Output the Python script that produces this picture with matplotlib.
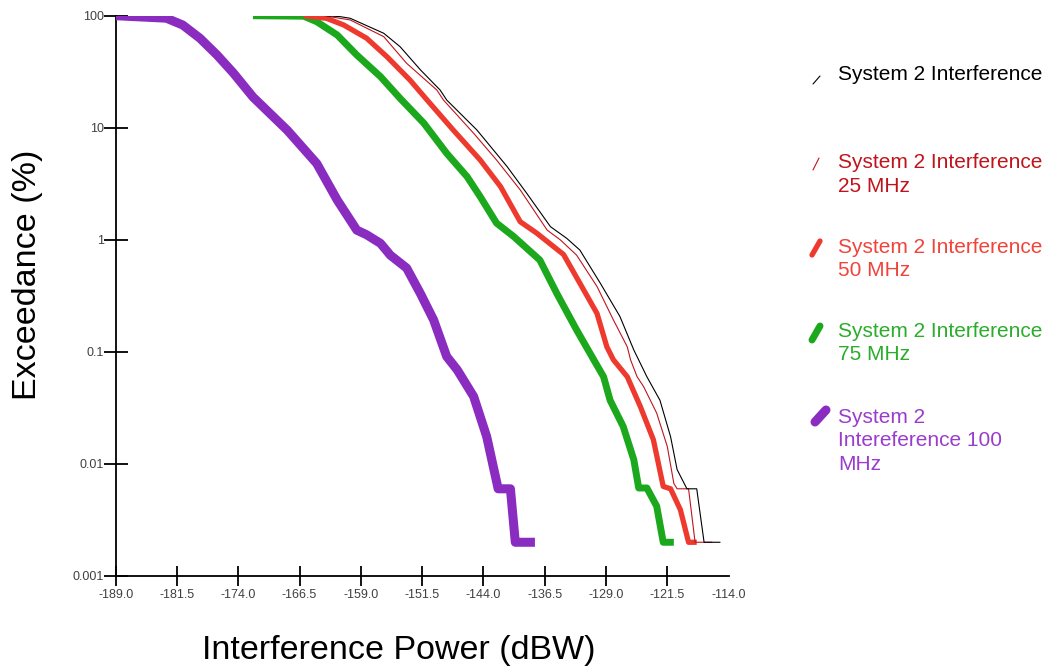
import numpy as np
import matplotlib
matplotlib.use('Agg')
import matplotlib.pyplot as plt
from matplotlib.lines import Line2D

plt.rcParams['font.family'] = ['Liberation Sans', 'DejaVu Sans']

# Exceedance curves, x = interference power (dBW), y = exceedance (%)
sys2_x = [-163.2, -161.5, -160.3, -156.2, -154.2, -151.7, -149.3, -148.5, -144.8, -141.1,
          -138.7, -135.8, -133.8, -132.2, -129.7, -127.3, -125.6, -124.0, -122.4, -121.1,
          -120.3, -119.1, -117.9, -117.0, -115.0]
sys2_y = [100, 98, 94.8, 69.7, 52.9, 32.8, 21.7, 17.7, 9.55, 4.5,
          2.6, 1.31, 1.03, 0.81, 0.41, 0.207, 0.104, 0.060, 0.037, 0.0175,
          0.0089, 0.006, 0.006, 0.002, 0.002]

sys2_25_x = [-163.5, -160.3, -156.2, -153.4, -149.7, -148.9, -145.2, -142.4, -139.5, -136.2,
             -134.6, -132.6, -130.1, -128.1, -126.4, -126.0, -125.2, -124.4, -122.8, -121.5,
             -120.7, -120.3, -118.9, -118.1, -116.0]
sys2_25_y = [100, 91.6, 65, 37.6, 21.7, 17.7, 8.93, 5.16, 2.79, 1.22,
             1.0, 0.73, 0.383, 0.193, 0.111, 0.085, 0.060, 0.049, 0.0284, 0.0143,
             0.0067, 0.006, 0.006, 0.002, 0.002]

sys2_50_x = [-166.0, -163.2, -161.1, -158.3, -155.8, -153.0, -150.9, -147.7, -144.4, -141.9,
             -139.5, -137.5, -134.2, -132.2, -130.1, -128.9, -128.1, -126.4, -124.8, -123.2,
             -122.0, -121.1, -119.9, -118.9, -117.9]
sys2_50_y = [100, 94.8, 82.6, 63, 43, 26.7, 17.7, 9.55, 5.16, 2.98,
             1.45, 1.15, 0.74, 0.41, 0.22, 0.111, 0.085, 0.060, 0.0325, 0.0164,
             0.0063, 0.006, 0.0039, 0.002, 0.002]

sys2_75_x = [-172.2, -166.0, -164.4, -161.9, -159.5, -156.6, -154.2, -151.3, -148.5, -146.0,
             -144.4, -142.4, -140.3, -137.1, -135.0, -132.6, -130.5, -129.3, -128.5, -126.9,
             -125.6, -125.0, -124.0, -122.8, -122.0, -120.7]
sys2_75_y = [100, 99, 88.4, 67.3, 44.6, 28.6, 18.3, 11.0, 5.92, 3.66,
             2.43, 1.41, 1.07, 0.66, 0.33, 0.157, 0.085, 0.060, 0.037, 0.0216,
             0.0109, 0.0061, 0.0061, 0.0042, 0.002, 0.002]

sys2_100_x = [-189.0, -182.8, -180.8, -178.7, -176.6, -174.6, -172.2, -168.0, -164.4, -161.9,
              -159.5, -158.3, -156.6, -155.4, -153.4, -151.7, -150.1, -148.5, -147.2, -145.2,
              -143.6, -142.8, -142.2, -140.7, -140.1, -137.7]
sys2_100_y = [100, 95, 82.6, 63, 44.6, 30.8, 18.8, 9.5, 4.8, 2.27,
              1.22, 1.11, 0.93, 0.73, 0.56, 0.33, 0.193, 0.091, 0.069, 0.040,
              0.0175, 0.0095, 0.006, 0.006, 0.002, 0.002]

x_ticks = np.arange(-189.0, -113.9, 7.5)
y_ticks = [0.001, 0.01, 0.1, 1, 10, 100]
y_tick_labels = ['0.001', '0.01', '0.1', '1', '10', '100']

labels = ['System 2 Interference',
          'System 2 Interference\n25 MHz',
          'System 2 Interference\n50 MHz',
          'System 2 Interference\n75 MHz',
          'System 2\nIntereference 100\nMHz']

colors = ['#000000', '#c0141c', '#ee3a2e', '#1ca81c', '#8a2cc0']
text_colors = ['#000000', '#c0141c', '#f0443a', '#2aad2a', '#9a3ccc']
widths = [0.8, 0.8, 3.8, 5.0, 6.5]

W, H = 1048, 671
fig = plt.figure(figsize=(W / 100, H / 100), dpi=100)
ax = fig.add_axes([115.7 / W, 1 - 576 / H, (728.6 - 115.7) / W, (576 - 15.7) / H])

series = [(sys2_x, sys2_y), (sys2_25_x, sys2_25_y), (sys2_50_x, sys2_50_y),
          (sys2_75_x, sys2_75_y), (sys2_100_x, sys2_100_y)]
for i in [4, 3, 2, 1, 0]:
    xs, ys = series[i]
    ax.plot(xs, ys, color=colors[i], lw=widths[i], solid_joinstyle='round',
            solid_capstyle='butt', zorder=3 + (4 - i))

ax.set_yscale('log')
ax.set_xlim(-189, -114)
ax.set_ylim(0.001, 100)
ax.set_xticks(x_ticks)
ax.set_xticklabels(['%.1f' % v for v in x_ticks])
ax.set_yticks(y_ticks)
ax.set_yticklabels(y_tick_labels)
ax.yaxis.set_minor_locator(matplotlib.ticker.NullLocator())

for side in ['top', 'right']:
    ax.spines[side].set_visible(False)
for side in ['left', 'bottom']:
    ax.spines[side].set_linewidth(1.3)
    ax.spines[side].set_color('#000000')

ax.tick_params(axis='y', direction='inout', length=17, width=1.3, pad=0,
               labelsize=9, labelcolor='#404040')
ax.tick_params(axis='x', direction='inout', length=15, width=1.3, pad=2,
               labelsize=9, labelcolor='#404040')
ax.xaxis.get_major_ticks()[-1].tick1line.set_visible(False)

fig.text(28 / W, 1 - 275 / H, 'Exceedance (%)', rotation=90, ha='center', va='center',
         fontsize=24.5)
fig.text(398.5 / W, 1 - 650 / H, 'Interference Power (dBW)', ha='center', va='center',
         fontsize=24.5)

# legend drawn by hand to copy the slanted swatches
lg = fig.add_axes([0, 0, 1, 1])
lg.set_xlim(0, W)
lg.set_ylim(H, 0)
lg.axis('off')
swatches = [((813, 84), (820, 76)), ((813, 170), (819, 158)), ((812, 255), (820, 241)),
            ((812, 340), (820, 326)), ((815, 422), (826, 410))]
text_centers = [75, 174.5, 259, 343, 441]
for i in range(5):
    (x0, y0), (x1, y1) = swatches[i]
    lg.add_line(Line2D([x0, x1], [y0, y1], color=colors[i], lw=widths[i],
                       solid_capstyle='round'))
    lg.text(838, text_centers[i], labels[i], color=text_colors[i], fontsize=15,
            ha='left', va='center', linespacing=1.32)

fig.savefig('out.png', dpi=100)
